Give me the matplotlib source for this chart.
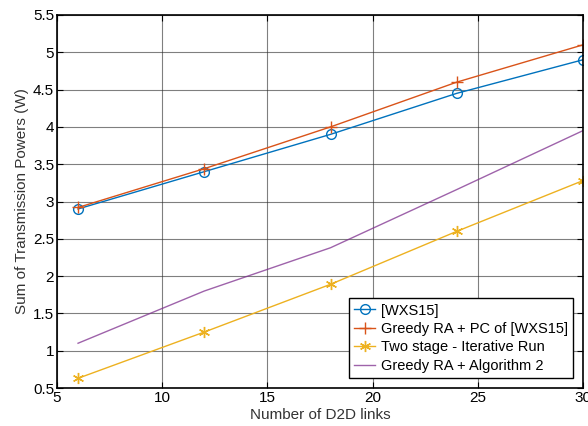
import numpy as np
import matplotlib.pyplot as plt

plt.rcParams['font.family'] = ['Liberation Sans', 'DejaVu Sans']

links = [6, 12, 18, 24, 30]
wxs15 = [2.90, 3.40, 3.90, 4.45, 4.90]
greedy_pc = [2.92, 3.44, 4.00, 4.60, 5.10]
two_stage = [0.63, 1.25, 1.89, 2.60, 3.28]
greedy_alg2 = [1.10, 1.80, 2.38, 3.16, 3.95]

fig = plt.figure(figsize=(5.88, 4.26), dpi=100)
ax = fig.add_axes([57 / 588, 1 - 388 / 426, 526 / 588, 373 / 426])

ax.plot(links, wxs15, color='#0072BD', lw=1.0, marker='o', ms=7,
        mfc='none', mew=1.0, label='[WXS15]')
ax.plot(links, greedy_pc, color='#D95319', lw=1.0, marker='+', ms=9,
        mew=1.0, label='Greedy RA + PC of [WXS15]')
# matlab-style asterisk marker
ax.plot(links, two_stage, color='#EDB120', lw=1.0, marker=(6, 2, 0), ms=8,
        mew=1.0, label='Two stage - Iterative Run')
ax.plot(links, greedy_alg2, color='#7E2F8E', lw=1.0, alpha=0.75,
        label='Greedy RA + Algorithm 2')

ax.set_xlim(5, 30)
ax.set_ylim(0.5, 5.5)
ax.set_xticks(np.arange(5, 31, 5))
ax.set_yticks(np.arange(0.5, 5.51, 0.5))
ax.set_yticklabels(['0.5', '1', '1.5', '2', '2.5', '3', '3.5', '4', '4.5', '5', '5.5'])
ax.grid(True, color='#2a2a2a', lw=0.8, alpha=0.6)
ax.tick_params(direction='in', top=True, right=True, labelsize=11, length=4, pad=2)
for s in ax.spines.values():
    s.set_linewidth(1.2)

ax.set_xlabel('Number of D2D links', fontsize=11, color='#333333', labelpad=2)
ax.set_ylabel('Sum of Transmission Powers (W)', fontsize=11, color='#333333', labelpad=3)

leg = ax.legend(loc='lower right', fontsize=10.5, fancybox=False, framealpha=1,
                edgecolor='black', borderpad=0.35, labelspacing=0.3,
                handlelength=1.4, handletextpad=0.4, borderaxespad=0.7)
leg.get_frame().set_linewidth(1.0)

fig.savefig('out.png', dpi=100)
